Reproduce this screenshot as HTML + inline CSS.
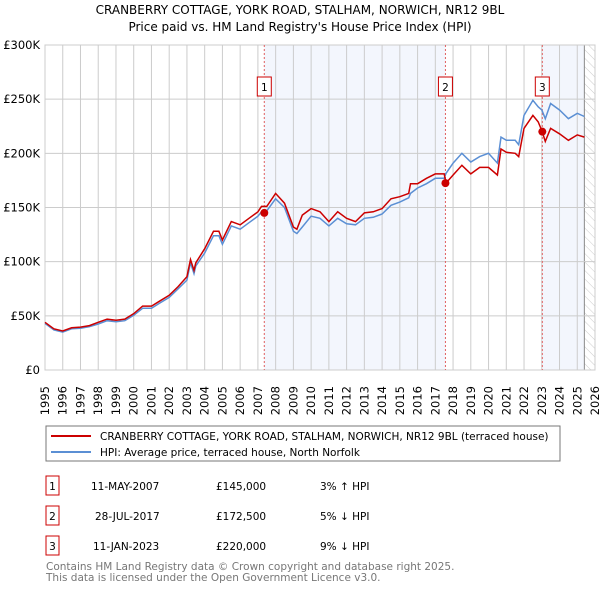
<!DOCTYPE html>
<html><head><meta charset="utf-8"><style>
body{margin:0;background:#fff;width:600px;height:590px;overflow:hidden;font-family:"DejaVu Sans","Liberation Sans",sans-serif;}
svg{position:absolute;left:0;top:0}
</style></head><body>
<svg width="600" height="590" xmlns="http://www.w3.org/2000/svg" font-family="DejaVu Sans, Liberation Sans, sans-serif">
<defs><pattern id="hatch" width="6" height="6" patternUnits="userSpaceOnUse" patternTransform="rotate(-45)"><line x1="0" y1="0" x2="0" y2="6" stroke="#ccc" stroke-width="1"/></pattern></defs>
<text x="300" y="14" text-anchor="middle" font-size="12">CRANBERRY COTTAGE, YORK ROAD, STALHAM, NORWICH, NR12 9BL</text>
<text x="300" y="31" text-anchor="middle" font-size="12">Price paid vs. HM Land Registry's House Price Index (HPI)</text>
<g id="plot"></g>
<g>
<rect x="46" y="426" width="514" height="35" fill="#fff" stroke="#777"/>
<line x1="51" y1="436" x2="91" y2="436" stroke="#cc0000" stroke-width="2"/>
<text x="100" y="440" font-size="10.5">CRANBERRY COTTAGE, YORK ROAD, STALHAM, NORWICH, NR12 9BL (terraced house)</text>
<line x1="51" y1="452" x2="91" y2="452" stroke="#5b8fd4" stroke-width="2"/>
<text x="100" y="456" font-size="10.5">HPI: Average price, terraced house, North Norfolk</text>
</g>
<g font-size="10.5">
<rect x="46" y="476" width="13" height="19" fill="#fff" stroke="#cc0000"/><text x="52.5" y="490" text-anchor="middle">1</text>
<text x="91" y="490">11-MAY-2007</text><text x="216" y="490">£145,000</text><text x="320" y="490">3% ↑ HPI</text>
<rect x="46" y="506" width="13" height="19" fill="#fff" stroke="#cc0000"/><text x="52.5" y="520" text-anchor="middle">2</text>
<text x="95" y="520">28-JUL-2017</text><text x="216" y="520">£172,500</text><text x="320" y="520">5% ↓ HPI</text>
<rect x="46" y="536" width="13" height="19" fill="#fff" stroke="#cc0000"/><text x="52.5" y="550" text-anchor="middle">3</text>
<text x="93" y="550">11-JAN-2023</text><text x="216" y="550">£220,000</text><text x="320" y="550">9% ↓ HPI</text>
</g>
<text x="46" y="570" font-size="10.5" fill="#777">Contains HM Land Registry data © Crown copyright and database right 2025.</text>
<text x="46" y="581" font-size="10.5" fill="#777">This data is licensed under the Open Government Licence v3.0.</text>
</svg>
<script>
const years=[1995,1995.5,1996,1996.5,1997,1997.5,1998,1998.5,1999,1999.5,2000,2000.5,2001,2001.5,2002,2002.5,2003,2003.2,2003.4,2003.5,2004,2004.5,2004.8,2005,2005.5,2006,2006.5,2007,2007.2,2007.5,2008,2008.5,2009,2009.2,2009.5,2010,2010.5,2011,2011.5,2012,2012.5,2013,2013.5,2014,2014.5,2015,2015.5,2015.6,2016,2016.5,2017,2017.5,2017.6,2018,2018.5,2019,2019.5,2020,2020.5,2020.7,2021,2021.5,2021.7,2022,2022.5,2022.8,2023,2023.2,2023.5,2024,2024.5,2025,2025.4];
const hpi=[43,37,35,38,38.5,40,42.5,45.5,44.5,45.5,50.5,57,57,62,67,75,83,99,89,96,108,124,124,116,133,130,136,142,146,147,158,150,128,126,132,142,140,133,140,135,134,140,141,144,152,155,159,163,168,172,177,177,181.5,191,200,192,197,200,191,215,212,212,208,235,249,243,240,232,246,240,232,237,234];
const price=[44,38,36,39,39.6,41,44,47,46,47,52,59,59,64,69,77,86,102,92,99,112,128,128,120,137,134,140,146,151,151,163,154,132,130,143,149,146,137,146,140,137,145,146,149,158,160,163,172,172,177,181,181,172.5,180,189,181,187,187,180,204,201,200,197,223,235,229,221,211,223,218,212,217,215];
const saleYears=[2007.36,2017.57,2023.03];
const salePrices=[145,172.5,220];
const saleLabels=['1','2','3'];
const yTicks=[0,50,100,150,200,250,300];
const yTickLabels=['£0','£50K','£100K','£150K','£200K','£250K','£300K'];
const xTicks=[];for(let y=1995;y<=2026;y++)xTicks.push(y);
const L=45,R=595,T=45,B=370,Y0=1995,Y1=2026,V1=300,FUT=2025.4;
const sx=y=>L+(y-Y0)/(Y1-Y0)*(R-L);
const sy=v=>B-v/V1*(B-T);
const NS='http://www.w3.org/2000/svg';
const g=document.getElementById('plot');
function mk(t,a){const e=document.createElementNS(NS,t);for(const k in a)e.setAttribute(k,a[k]);g.appendChild(e);return e;}
const bandStarts=[saleYears[0],saleYears[2]],bandEnds=[saleYears[1],FUT];
for(let i=0;i<2;i++){const r=mk('rect',{x:sx(bandStarts[i]),y:T,width:sx(bandEnds[i])-sx(bandStarts[i]),height:B-T,fill:'#f3f6fd'});

}
const h=mk('rect',{x:sx(FUT),y:T,width:R-sx(FUT),height:B-T,fill:'url(#hatch)'});


mk('line',{x1:sx(FUT),y1:T,x2:sx(FUT),y2:B,stroke:'#888','stroke-width':1});
xTicks.forEach(y=>{const l=mk('line',{x1:sx(y),y1:T,x2:sx(y),y2:B,stroke:'#ccc','stroke-width':1});


const t=mk('text',{x:0,y:0,'font-size':11.5,transform:`translate(${sx(y)+4},${B+16}) rotate(-90)`,'text-anchor':'end'});t.textContent=y;

});
yTicks.forEach((v,i)=>{const l=mk('line',{x1:L,y1:sy(v),x2:R,y2:sy(v),stroke:'#ccc','stroke-width':1});


const t=mk('text',{x:40,y:sy(v)+4,'font-size':11.5,'text-anchor':'end'});t.textContent=yTickLabels[i];

});
mk('rect',{x:L,y:T,width:R-L,height:B-T,fill:'none',stroke:'#ccc'});
saleYears.forEach((y,i)=>{const l=mk('line',{x1:sx(y),y1:T,x2:sx(y),y2:B,stroke:'#e06060','stroke-width':1,'stroke-dasharray':'2,2'});


const b=mk('rect',{x:sx(y)-7,y:77,width:14,height:19,fill:'#fff',stroke:'#cc0000'});


const t=mk('text',{x:sx(y),y:91,'font-size':10.5,'text-anchor':'middle'});t.textContent=saleLabels[i];

});
function path(vals){return vals.map((v,i)=>(i?'L':'M')+sx(years[i]).toFixed(1)+','+sy(v).toFixed(1)).join('');}
const hp=mk('path',{d:path(hpi),fill:'none',stroke:'#5b8fd4','stroke-width':1.5});


const pp=mk('path',{d:path(price),fill:'none',stroke:'#cc0000','stroke-width':1.5});


saleYears.forEach((y,i)=>{const c=mk('circle',{cx:sx(y),cy:sy(salePrices[i]),r:4,fill:'#cc0000'});

});
</script>
</body></html>
